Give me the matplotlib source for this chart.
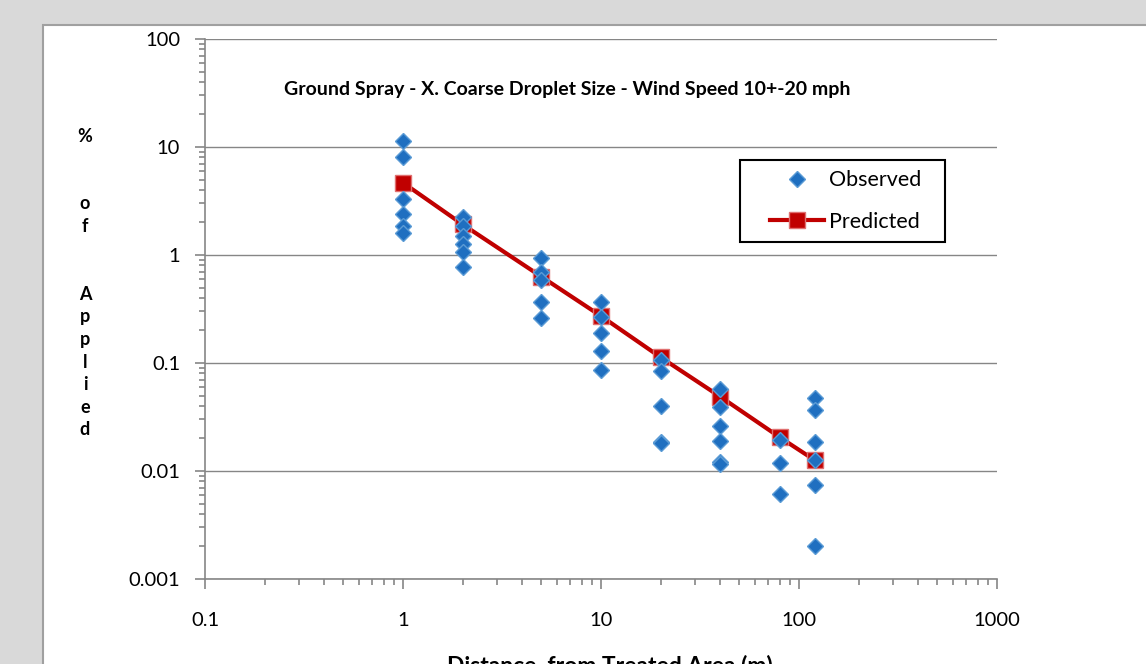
import numpy as np
import matplotlib.pyplot as plt
from matplotlib.patches import Rectangle

plt.rcParams['font.family'] = ['Lato', 'DejaVu Sans']

# observed drift (% of applied) at each distance (m)
obs_dist = [1, 1, 1, 1, 1, 1,
            2, 2, 2, 2, 2, 2,
            5, 5, 5, 5, 5,
            10, 10, 10, 10, 10,
            20, 20, 20, 20, 20,
            40, 40, 40, 40, 40, 40,
            80, 80, 80,
            120, 120, 120, 120, 120, 120]
obs_pct = [11.4, 8.0, 3.3, 2.4, 1.85, 1.6,
           2.26, 1.86, 1.5, 1.26, 1.07, 0.78,
           0.93, 0.70, 0.59, 0.37, 0.26,
           0.37, 0.265, 0.19, 0.13, 0.086,
           0.107, 0.085, 0.040, 0.0187, 0.0180,
           0.058, 0.039, 0.026, 0.019, 0.0120, 0.0116,
           0.0194, 0.0119, 0.0061,
           0.047, 0.037, 0.0187, 0.0126, 0.0074, 0.0020]

pred_dist = [1, 2, 5, 10, 20, 40, 80, 120]
pred_pct = [4.67, 1.92, 0.63, 0.272, 0.113, 0.0488, 0.0205, 0.0126]

title = "Ground Spray - X. Coarse Droplet Size - Wind Speed 10+-20 mph"

fig = plt.figure(figsize=(11.46, 6.64), dpi=100)
fig.patch.set_facecolor('#d9d9d9')
fig.patches.append(Rectangle((43 / 1146, -0.1), 1.2, 1 - 25 / 664 + 0.1,
                             transform=fig.transFigure, facecolor='white',
                             edgecolor='#a0a0a0', linewidth=1.5, zorder=-10))

ax = fig.add_axes([205 / 1146, 1 - 579 / 664, 792 / 1146, 540 / 664])
ax.set_zorder(1)
ax.set_facecolor('none')
ax.set_xscale('log')
ax.set_yscale('log')
ax.set_xlim(0.1, 1000)
ax.set_ylim(0.001, 100)

ax.plot(pred_dist, pred_pct, color='#c00000', lw=3, marker='s', ms=11,
        mfc='#c00000', mec='#e07070', mew=1, label='Predicted', zorder=3)
ax.plot(obs_dist, obs_pct, ls='none', marker='D', ms=8, color='#1f6fc0',
        mec='#5b9bd5', mew=1, label='Observed', zorder=4)

ax.grid(True, which='major', axis='y', color='#868686', lw=1)
ax.set_axisbelow(True)
for s in ['top', 'right']:
    ax.spines[s].set_visible(False)
for s in ['left', 'bottom']:
    ax.spines[s].set_color('#868686')
    ax.spines[s].set_linewidth(1.2)

ax.set_xticks([0.1, 1, 10, 100, 1000])
ax.set_xticklabels(['0.1', '1', '10', '100', '1000'])
ax.set_yticks([0.001, 0.01, 0.1, 1, 10, 100])
ax.set_yticklabels(['0.001', '0.01', '0.1', '1', '10', '100'])
ax.tick_params(which='major', length=7, color='#868686', width=1.2, labelsize=14.5)
ax.tick_params(which='minor', length=4, color='#868686', width=1.2)
ax.tick_params(axis='x', which='major', pad=17)
ax.tick_params(axis='y', which='major', pad=11)

ax.text(0.458, 0.907, title, transform=ax.transAxes, ha='center',
        va='center', fontsize=14, fontweight='bold')

# legend: frame drawn separately so the handles sit inset like the original
ax.add_patch(Rectangle((0.6755, 0.624), 0.2588, 0.1519, transform=ax.transAxes,
                       facecolor='white', edgecolor='black', lw=1.5, zorder=5))
handles, labels = ax.get_legend_handles_labels()
leg = ax.legend(handles[::-1], labels[::-1], loc='center left',
                bbox_to_anchor=(0.7134, 0.700), borderaxespad=0, borderpad=0,
                fontsize=15.5, frameon=False, handlelength=2.5,
                labelspacing=1.0, handletextpad=0.25)
leg.set_zorder(6)

fig.text(85 / 1146, 1 - 283 / 664,
         "%\n\n\no\nf\n\n\nA\np\np\nl\ni\ne\nd",
         ha='center', va='center', fontsize=13, fontweight='bold',
         linespacing=1.4)
fig.text(610 / 1146, 1 - 666 / 664, "Distance  from Treated Area (m)",
         ha='center', va='center', fontsize=16.5, fontweight='bold')

fig.savefig('out.png', dpi=100, facecolor=fig.get_facecolor())
